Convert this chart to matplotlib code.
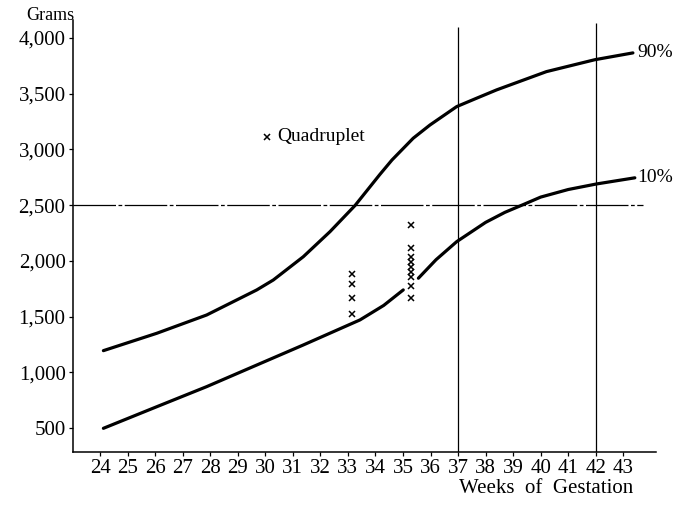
import matplotlib.pyplot as plt

plt.rcParams['font.family'] = ['Liberation Serif', 'DejaVu Serif']

# Percentile curves (weeks, grams)
p90_weeks = [24.12, 26.06, 27.87, 29.69, 30.29, 31.38, 32.35, 33.26, 34.16, 34.6, 35.37, 35.98,
             36.95, 37.67, 38.4, 40.21, 41.97, 43.35]
p90_grams = [1194, 1350, 1514, 1739, 1828, 2037, 2262, 2497, 2775, 2905, 3100, 3219,
             3384, 3459, 3534, 3698, 3805, 3866]

p10a_weeks = [24.12, 26.06, 27.87, 29.69, 31.38, 33.44, 34.3, 35.01]
p10a_grams = [497, 691, 871, 1065, 1245, 1470, 1600, 1739]
p10b_weeks = [35.56, 36.2, 36.95, 38.0, 38.7, 39.37, 40.0, 41.0, 42.03, 43.42]
p10b_grams = [1844, 2010, 2172, 2345, 2435, 2505, 2572, 2640, 2690, 2745]

# Quadruplet birth weights
quad_weeks = [33.14] * 4 + [35.29] * 9
quad_grams = [1882, 1792, 1667, 1523,
              2322, 2115, 2035, 1990, 1945, 1900, 1855, 1774, 1667]

x_ticks = list(range(24, 44))
y_ticks = [500, 1000, 1500, 2000, 2500, 3000, 3500, 4000]
y_labels = ['500', '1,000', '1,500', '2,000', '2,500', '3,000', '3,500', '4,000']

fig = plt.figure(figsize=(6.91, 5.07), dpi=100)
ax = fig.add_axes([0.105, 0.1085, 0.844, 0.852])

for wk, gr in [(p90_weeks, p90_grams), (p10a_weeks, p10a_grams), (p10b_weeks, p10b_grams)]:
    ax.plot(wk, gr, color='black', lw=2.3, solid_capstyle='round', solid_joinstyle='round')

ax.plot(quad_weeks, quad_grams, 'x', color='black', ms=4.5, mew=1.1)

# reference lines
ax.axhline(2500, xmin=0, xmax=(43.7 - 23.0) / (44.18 - 23.0), color='black',
           lw=0.9, linestyle=(0, (34, 2, 3, 2)))
ax.vlines([37], 284.6, 4100, color='black', lw=0.9)
ax.vlines([42], 284.6, 4135, color='black', lw=0.9)

ax.text(43.5, 3866, '90%', fontsize=14, va='center', ha='left')
ax.text(43.5, 2745, '10%', fontsize=14, va='center', ha='left')

ax.plot([30.06], [3112], 'x', color='black', ms=4.5, mew=1.1)
ax.text(30.45, 3112, 'Quadruplet', fontsize=14, va='center', ha='left')

ax.set_xlim(23.0, 44.18)
ax.set_ylim(284.6, 4161)
ax.set_xticks(x_ticks)
ax.set_xticklabels([str(w) for w in x_ticks])
ax.set_yticks(y_ticks)
ax.set_yticklabels(y_labels)
ax.tick_params(axis='both', direction='out', length=3, width=0.9, labelsize=15, pad=2)

for s in ['top', 'right']:
    ax.spines[s].set_visible(False)
for s in ['left', 'bottom']:
    ax.spines[s].set_linewidth(1.1)

fig.text(0.107, 0.969, 'Grams', fontsize=13, ha='right', va='center')
fig.text(0.916, 0.037, 'Weeks  of  Gestation', fontsize=15, ha='right', va='center')

fig.savefig('out.png', dpi=100)
